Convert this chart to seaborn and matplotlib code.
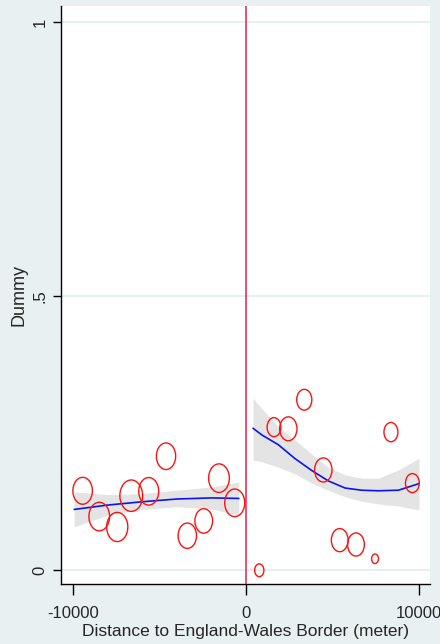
import numpy as np
import pandas as pd
import matplotlib
matplotlib.use("Agg")
import matplotlib.pyplot as plt
from matplotlib.path import Path
from matplotlib.transforms import Affine2D
import seaborn as sns

# Binned means of the dummy, west (negative) and east (positive) of the border
dist_west = [-9460, -8500, -7460, -6650, -5640, -4640, -3410, -2460, -1580, -670]
dummy_west = [0.145, 0.098, 0.079, 0.136, 0.144, 0.208, 0.063, 0.090, 0.168, 0.123]
weight_west = [8.0, 9.0, 9.4, 10.9, 8.4, 7.8, 7.1, 6.6, 9.0, 8.4]

dist_east = [750, 1600, 2430, 3350, 4450, 5400, 6340, 7440, 8360, 9600]
dummy_east = [0.0, 0.261, 0.258, 0.311, 0.183, 0.055, 0.047, 0.021, 0.252, 0.159]
weight_east = [1.8, 4.0, 6.3, 4.8, 6.4, 5.9, 5.9, 1.0, 4.1, 4.0]

# Fitted curve with 95% confidence band on each side
fit_x_west = [-9950, -8000, -6000, -4000, -2000, -430]
fit_west = [0.111, 0.119, 0.125, 0.130, 0.132, 0.131]
ci_lo_west = [0.079, 0.101, 0.111, 0.116, 0.112, 0.100]
ci_hi_west = [0.143, 0.138, 0.140, 0.146, 0.152, 0.161]

fit_x_east = [390, 890, 1850, 2800, 3780, 4740, 5710, 6670, 7630, 8790, 9980]
fit_east = [0.259, 0.247, 0.229, 0.204, 0.182, 0.163, 0.150, 0.146, 0.145, 0.146, 0.158]
ci_lo_east = [0.201, 0.198, 0.188, 0.176, 0.159, 0.146, 0.134, 0.126, 0.121, 0.117, 0.110]
ci_hi_east = [0.314, 0.295, 0.262, 0.238, 0.212, 0.188, 0.174, 0.168, 0.168, 0.183, 0.204]

x_ticks = [-10000, 0, 10000]
x_tick_labels = ["-10000", "0", "10000"]
y_ticks = [0, 0.5, 1]
y_tick_labels = ["0", ".5", "1"]

sns.set_style("ticks")
plt.rcParams["font.family"] = ["Liberation Sans", "DejaVu Sans"]

bg = "#e9f0f2"
fig = plt.figure(figsize=(4.4, 6.44), dpi=100, facecolor=bg)
ax = fig.add_axes([61 / 440, 60 / 644, 369 / 440, 578 / 644])
ax.set_facecolor("white")

# horizontal grid
for yv in y_ticks:
    ax.axhline(yv, color="#e2ebee", lw=1.1, zorder=0)

# confidence bands
ax.fill_between(fit_x_west, ci_lo_west, ci_hi_west, color="#e4e4e4", lw=0, zorder=1)
ax.fill_between(fit_x_east, ci_lo_east, ci_hi_east, color="#e4e4e4", lw=0, zorder=1)

# fitted lines
sns.lineplot(x=fit_x_west, y=fit_west, ax=ax, color="#0a14f0", lw=1.2, zorder=3)
sns.lineplot(x=fit_x_east, y=fit_east, ax=ax, color="#0a14f0", lw=1.2, zorder=3)

# hollow, weight-scaled markers (slightly tall ellipses)
ellipse = Path.unit_circle().transformed(Affine2D().scale(1.0, 1.38))
bins = pd.DataFrame({
    "dist": dist_west + dist_east,
    "dummy": dummy_west + dummy_east,
    "weight": weight_west + weight_east,
})
sns.scatterplot(data=bins, x="dist", y="dummy", size="weight",
                sizes=(0, 47 * 12), size_norm=(0, 12), marker=ellipse,
                facecolors="none", edgecolor="#ff1010", linewidth=1.0,
                legend=False, ax=ax, zorder=4)

# border cutoff
ax.axvline(0, color="#dc2450", lw=1.1, zorder=5)

ax.set_xlim(-10711, 10618)
ax.set_ylim(-0.025, 1.029)

ax.set_xticks(x_ticks)
ax.set_xticklabels(x_tick_labels, fontsize=12)
ax.set_yticks(y_ticks)
ax.set_yticklabels(y_tick_labels, fontsize=12, rotation=90, va="center")
ax.tick_params(axis="x", length=8, width=1, color="black", pad=8)
ax.tick_params(axis="y", length=6, width=1, color="black", pad=3.5)

ax.set_xlabel("Distance to England-Wales Border (meter)", fontsize=12.5, labelpad=2)
ax.set_ylabel("Dummy", fontsize=13, labelpad=3.5)

for side in ["top", "right"]:
    ax.spines[side].set_visible(False)
for side in ["left", "bottom"]:
    ax.spines[side].set_color("black")
    ax.spines[side].set_linewidth(1.0)

fig.savefig("out.png", dpi=100, facecolor=bg)
